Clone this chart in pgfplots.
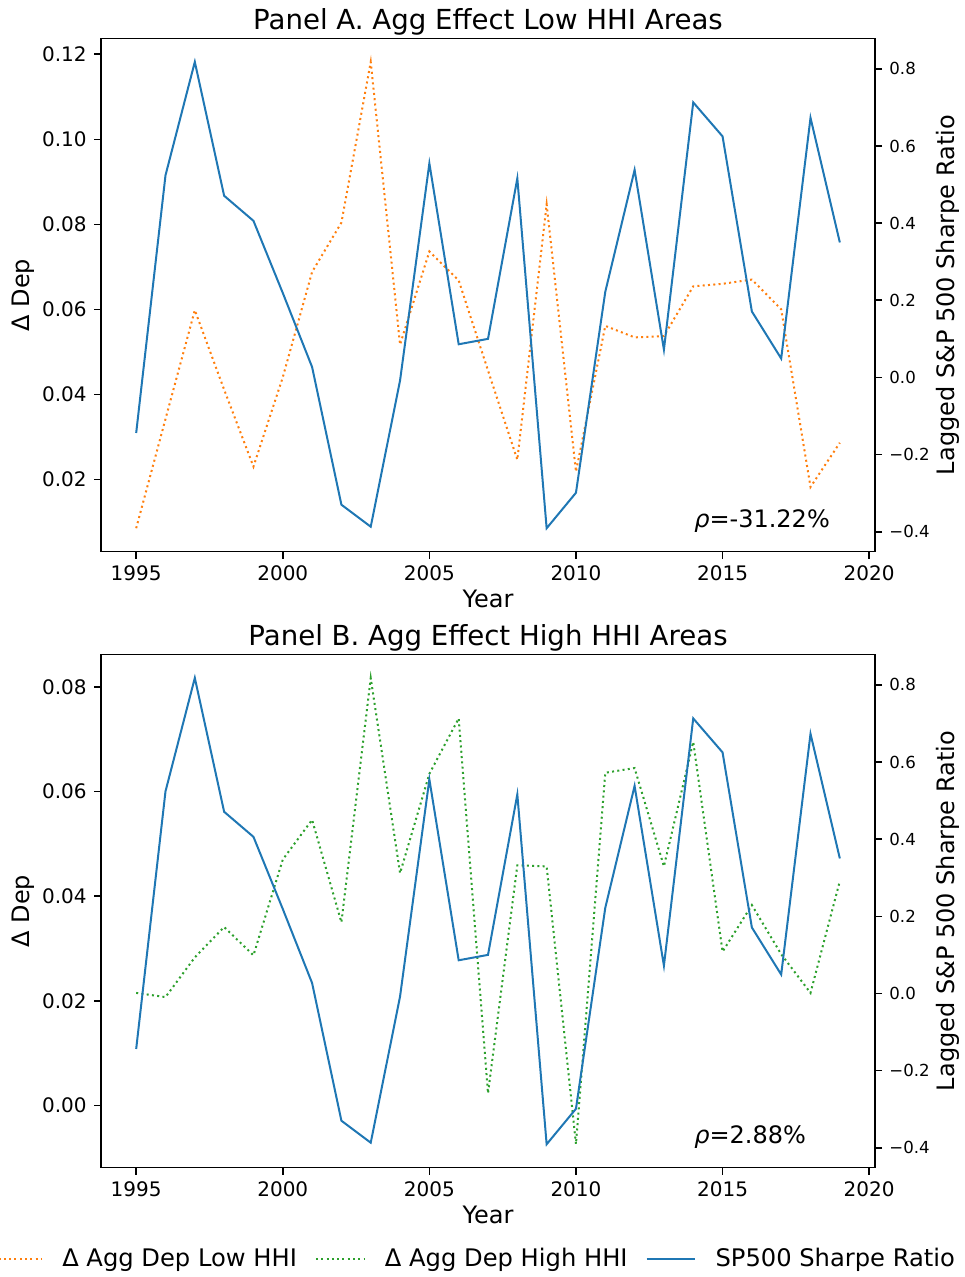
\documentclass[border=0pt]{standalone}
\usepackage{fontspec}
\setmainfont{DejaVu Sans}
\usepackage{pgfplots}
\usepackage{pgfplotstable}
\pgfplotsset{compat=1.18}
\definecolor{mblue}{HTML}{1F77B4}
\definecolor{morange}{HTML}{FF7F0E}
\definecolor{mgreen}{HTML}{2CA02C}

\pgfplotstableread{
year sp low high
1995 -0.144 0.0085 0.0215
1996 0.524 0.0342 0.0207
1997 0.818 0.0598 0.0283
1998 0.471 0.0411 0.0341
1999 0.406 0.0230 0.0287
2000 0.219 0.0440 0.0470
2001 0.027 0.0688 0.0546
2002 -0.330 0.0804 0.0350
2003 -0.387 0.1182 0.0817
2004 -0.008 0.0517 0.0444
2005 0.555 0.0736 0.0634
2006 0.086 0.0668 0.0740
2007 0.100 0.0456 0.0023
2008 0.516 0.0246 0.0459
2009 -0.391 0.0847 0.0457
2010 -0.299 0.0218 -0.0074
2011 0.222 0.0561 0.0636
2012 0.538 0.0534 0.0645
2013 0.072 0.0537 0.0457
2014 0.713 0.0654 0.0695
2015 0.625 0.0660 0.0294
2016 0.171 0.0670 0.0383
2017 0.049 0.0600 0.0289
2018 0.673 0.0182 0.0215
2019 0.350 0.0286 0.0429
}\data

\tikzset{
  lowst/.style={color=morange, line width=1pt, dash pattern=on 1pt off 1.65pt},
  highst/.style={color=mgreen, line width=1pt, dash pattern=on 1pt off 1.65pt},
  spst/.style={color=mblue, line width=1pt},
}

\pgfplotsset{
  base/.style={
    scale only axis, width=387pt, height=256.5pt,
    xmin=1993.8, xmax=2020.2,
    xtick={1995,2000,2005,2010,2015,2020},
    xticklabels={1995,2000,2005,2010,2015,2020},
    scaled y ticks=false, scaled x ticks=false,
    tick align=outside,
    major tick length=3.5pt,
    every tick/.style={black, line width=0.8pt},
    axis line style={line width=0.8pt},
    ticklabel style={font=\fontsize{10}{12}\selectfont},
    xticklabel style={inner sep=0pt, anchor=north, yshift=-3.5pt},
    legend image code/.code={\draw[##1] (0pt,0pt) -- (24pt,0pt);},
  },
  leftax/.style={
    base, tick pos=left,
    yticklabel style={inner sep=0pt, anchor=east, xshift=-3.5pt},
    every axis title/.style={at={(axis description cs:0.5,1)}, anchor=base, yshift=4.7pt, font=\fontsize{13.8}{16}\selectfont},
    every axis y label/.style={at={(axis description cs:-0.0924,0.5)}, rotate=90, anchor=base, font=\fontsize{12}{14}\selectfont},
    every axis x label/.style={at={(axis description cs:0.5,-0.1099)}, anchor=base, font=\fontsize{12}{14}\selectfont},
    ylabel={Δ Dep}, xlabel={Year},
  },
  rightax/.style={
    base, axis y line*=right, axis x line=none,
    tick align=outside,
    ymin=-0.4515, ymax=0.8785,
    ytick={-0.4,-0.2,0,0.2,0.4,0.6,0.8},
    yticklabels={−0.4,−0.2,0.0,0.2,0.4,0.6,0.8},
    yticklabel style={inner sep=0pt, anchor=west, xshift=3.5pt, font=\fontsize{8.3}{10}\selectfont},
    every axis y label/.style={at={(axis description cs:1.1021,0.5)}, rotate=90, anchor=base, font=\fontsize{12}{14}\selectfont},
    ylabel={Lagged S\&P 500 Sharpe Ratio},
  },
}

\begin{document}
\begin{tikzpicture}
\path[use as bounding box] (0,0) rectangle (482pt,638.5pt);

% ---------- Panel A ----------
\begin{axis}[leftax, at={(50.5pt,362.7pt)}, anchor=south west,
  ymin=0.0030, ymax=0.1237,
  ytick={0.02,0.04,0.06,0.08,0.10,0.12},
  yticklabels={0.02,0.04,0.06,0.08,0.10,0.12},
  title={Panel A. Agg Effect Low HHI Areas}]
\addplot[lowst] table[x=year,y=low]{\data};
\end{axis}
\begin{axis}[rightax, at={(50.5pt,362.7pt)}, anchor=south west]
\addplot[spst] table[x=year,y=sp]{\data};
\node[anchor=base west, inner sep=0pt, font=\fontsize{12}{14}\selectfont] at (rel axis cs:0.766,0.047) {{\itshape ρ}=-31.22\%};
\end{axis}

% ---------- Panel B ----------
\begin{axis}[leftax, at={(50.5pt,54.7pt)}, anchor=south west,
  ymin=-0.0119, ymax=0.0862,
  ytick={0,0.02,0.04,0.06,0.08},
  yticklabels={0.00,0.02,0.04,0.06,0.08},
  title={Panel B. Agg Effect High HHI Areas}]
\addplot[highst] table[x=year,y=high]{\data};
\end{axis}
\begin{axis}[rightax, at={(50.5pt,54.7pt)}, anchor=south west,
  legend columns=3,
  legend cell align=left,
  legend style={at={(0.484,-0.178)}, anchor=center, draw=none, fill=none,
    font=\fontsize{12.1}{14}\selectfont,
    /tikz/every odd column/.append style={column sep=8pt},
    /tikz/every even column/.append style={column sep=7pt}}]
\addlegendimage{lowst}
\addlegendentry{Δ Agg Dep Low HHI}
\addlegendimage{highst}
\addlegendentry{Δ Agg Dep High HHI}
\addplot[spst] table[x=year,y=sp]{\data};
\addlegendentry{SP500 Sharpe Ratio}
\node[anchor=base west, inner sep=0pt, font=\fontsize{12}{14}\selectfont] at (rel axis cs:0.766,0.047) {{\itshape ρ}=2.88\%};
\end{axis}
\end{tikzpicture}
\end{document}
